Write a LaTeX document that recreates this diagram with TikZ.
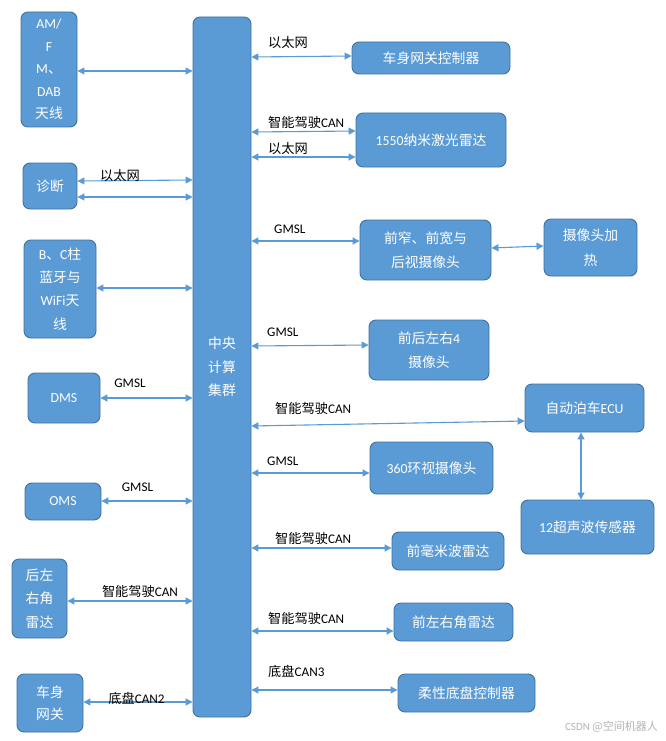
\documentclass[tikz,border=0pt]{standalone}
\usepackage{fontspec}
\setmainfont{Carlito}
\newfontfamily\cjk{Noto Sans CJK SC}
\usetikzlibrary{arrows.meta}
\definecolor{boxfill}{HTML}{5B9BD5}
\definecolor{boxline}{HTML}{41719C}
\definecolor{conncol}{HTML}{5B9BD5}
\definecolor{wmark}{HTML}{B4B4B4}
\begin{document}
\begin{tikzpicture}[x=1pt,y=-1pt,
  box/.style={draw=boxline, line width=0.9pt, fill=boxfill, rounded corners=7pt, text=white, align=center, inner sep=0pt, font=\fontsize{13.8}{22.5}\selectfont},
  lbl/.style={inner sep=0pt, text=black, font=\fontsize{13.2}{15}\selectfont},
  conn/.style={draw=conncol, line width=1.1pt, {Triangle[length=7pt,width=7pt]}-{Triangle[length=7pt,width=7pt]}}]
\useasboundingbox[fill=white] (0,0) rectangle (666,741);

% central
\node[box, minimum width=58pt, minimum height=700pt, font=\fontsize{13.8}{23.5}\selectfont] (cc) at (222,367) {\cjk 中央\\\cjk 计算\\\cjk 集群};

% left column
\node[box, minimum width=56pt, minimum height=115pt] (am) at (49,69.5) {AM/\\F\\M{\cjk 、}\\DAB\\{\cjk 天线}};
\node[box, minimum width=54pt, minimum height=46pt] (diag) at (50,186) {\cjk 诊断};
\node[box, minimum width=72pt, minimum height=98pt, font=\fontsize{13.8}{23.3}\selectfont] (bc) at (60,289) {B{\cjk 、}C{\cjk 柱}\\{\cjk 蓝牙与}\\WiFi{\cjk 天}\\{\cjk 线}};
\node[box, minimum width=72pt, minimum height=50pt] (dms) at (64,398) {DMS};
\node[box, minimum width=76pt, minimum height=37pt] (oms) at (63,501.5) {OMS};
\node[box, minimum width=55pt, minimum height=79pt, font=\fontsize{13.8}{23.5}\selectfont] (rlr) at (39.5,598.5) {\cjk 后左\\\cjk 右角\\\cjk 雷达};
\node[box, minimum width=66pt, minimum height=58pt] (bgw) at (50,703) {\cjk 车身\\\cjk 网关};

% right column
\node[box, minimum width=158pt, minimum height=32pt] (bgc) at (431,58) {\cjk 车身网关控制器};
\node[box, minimum width=150pt, minimum height=54pt] (lidar) at (431,140) {1550{\cjk 纳米激光雷达}};
\node[box, minimum width=131pt, minimum height=60pt, font=\fontsize{13.8}{24}\selectfont] (fcam) at (425.5,250) {\cjk 前窄、前宽与\\\cjk 后视摄像头};
\node[box, minimum width=93pt, minimum height=57pt, font=\fontsize{13.8}{25}\selectfont] (heat) at (590.5,247.5) {\cjk 摄像头加\\\cjk 热};
\node[box, minimum width=120pt, minimum height=60pt, font=\fontsize{13.8}{23.5}\selectfont] (cam4) at (429,350) {{\cjk 前后左右}4\\{\cjk 摄像头}};
\node[box, minimum width=119pt, minimum height=48pt] (ecu) at (584.5,408) {{\cjk 自动泊车}ECU};
\node[box, minimum width=123pt, minimum height=52pt] (c360) at (431.5,468) {360{\cjk 环视摄像头}};
\node[box, minimum width=133pt, minimum height=54pt] (uss) at (587.5,527) {12{\cjk 超声波传感器}};
\node[box, minimum width=112pt, minimum height=38pt] (mmw) at (448,551) {\cjk 前毫米波雷达};
\node[box, minimum width=119pt, minimum height=38pt] (flr) at (453.5,622) {\cjk 前左右角雷达};
\node[box, minimum width=137pt, minimum height=38pt] (chs) at (466.5,693) {\cjk 柔性底盘控制器};

% left connectors
\draw[conn] (am.east |- 0,71) -- (cc.west |- 0,71);
\draw[conn] (diag.east |- 0,181) -- (cc.west |- 0,180);
\draw[conn] (diag.east |- 0,197) -- (cc.west |- 0,197);
\draw[conn] (bc.east |- 0,288) -- (cc.west |- 0,288);
\draw[conn] (dms.east |- 0,398) -- (cc.west |- 0,398);
\draw[conn] (oms.east |- 0,501) -- (cc.west |- 0,501);
\draw[conn] (rlr.east |- 0,601) -- (cc.west |- 0,601);
\draw[conn] (bgw.east |- 0,702) -- (cc.west |- 0,702);

% right connectors
\draw[conn] (cc.east |- 0,57) -- (bgc.west |- 0,56);
\draw[conn] (cc.east |- 0,132) -- (lidar.west |- 0,131);
\draw[conn] (cc.east |- 0,157) -- (lidar.west |- 0,157);
\draw[conn] (cc.east |- 0,241) -- (fcam.west |- 0,241);
\draw[conn] (fcam.east |- 0,248) -- (heat.west |- 0,246);
\draw[conn] (cc.east |- 0,346) -- (cam4.west |- 0,345);
\draw[conn] (cc.east |- 0,426) -- (ecu.west |- 0,421);
\draw[conn] (ecu.south -| 581,0) -- (uss.north -| 581,0);
\draw[conn] (cc.east |- 0,473) -- (c360.west |- 0,473);
\draw[conn] (cc.east |- 0,548) -- (mmw.west |- 0,548);
\draw[conn] (cc.east |- 0,631) -- (flr.west |- 0,631);
\draw[conn] (cc.east |- 0,690) -- (chs.west |- 0,690);

% labels left
\node[lbl] (l1) at (120,176) {\cjk 以太网};
\node[lbl] (l2) at (130,383) {GMSL};
\node[lbl] (l3) at (137.5,487) {GMSL};
\node[lbl] (l4) at (140,591) {{\cjk 智能驾驶}CAN};
\node[lbl] (l5) at (136.5,698) {{\cjk 底盘}CAN2};

% labels right
\node[lbl, anchor=west] (r1) at (268,43) {\cjk 以太网};
\node[lbl, anchor=west] (r2) at (268,122) {{\cjk 智能驾驶}CAN};
\node[lbl, anchor=west] (r3) at (268,149) {\cjk 以太网};
\node[lbl, anchor=west] (r4) at (274,229) {GMSL};
\node[lbl, anchor=west] (r5) at (267,332) {GMSL};
\node[lbl, anchor=west] (r6) at (275,408) {{\cjk 智能驾驶}CAN};
\node[lbl, anchor=west] (r7) at (267,461) {GMSL};
\node[lbl, anchor=west] (r8) at (275,538) {{\cjk 智能驾驶}CAN};
\node[lbl, anchor=west] (r9) at (268,618) {{\cjk 智能驾驶}CAN};
\node[lbl, anchor=west] (r10) at (268,671) {{\cjk 底盘}CAN3};

% watermark
\node[inner sep=0pt, text=wmark, font=\fontsize{11}{13}\selectfont, anchor=east] (wm) at (658,727) {CSDN {\cjk @空间机器人}};
\end{tikzpicture}
\end{document}
